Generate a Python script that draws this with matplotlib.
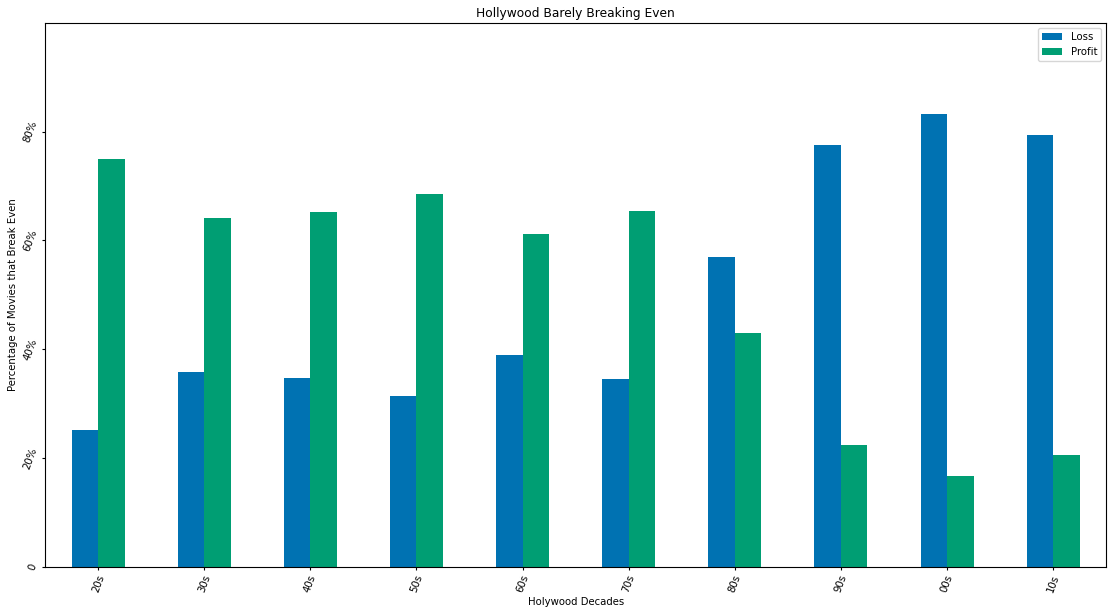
import matplotlib
matplotlib.use("Agg")
import matplotlib.pyplot as plt
import numpy as np

plt.rcParams["font.size"] = 7.3

decades = ["20s", "30s", "40s", "50s", "60s", "70s", "80s", "90s", "00s", "10s"]
loss = [0.251, 0.359, 0.348, 0.315, 0.389, 0.345, 0.570, 0.776, 0.833, 0.794]
profit = [0.749, 0.641, 0.652, 0.685, 0.611, 0.655, 0.430, 0.224, 0.167, 0.206]

fig = plt.figure(figsize=(11.16, 6.15), dpi=100)
ax = fig.add_axes([0.0403, 0.078, 0.951, 0.885])
x = np.arange(len(decades))
w = 0.25
ax.bar(x - w/2, loss, w, color="#0072B2", label="Loss")
ax.bar(x + w/2, profit, w, color="#009E73", label="Profit")
ax.set_xlim(-0.5, len(decades) - 0.5)
ax.set_ylim(0, 1.0)
ax.set_xticks(x)
ax.set_xticklabels(decades, rotation=70)
yt = [0, 0.2, 0.4, 0.6, 0.8]
ax.set_yticks(yt)
ax.set_yticklabels(["0", "20%", "40%", "60%", "80%"], rotation=70, va="center")
ax.tick_params(length=2.5, pad=2)
ax.set_xlabel("Holywood Decades", labelpad=2)
ax.set_ylabel("Percentage of Movies that Break Even", labelpad=3)
ax.set_title("Hollywood Barely Breaking Even", fontsize=8.8, pad=4)
ax.legend(loc="upper right")
fig.savefig("out.png", dpi=100)
